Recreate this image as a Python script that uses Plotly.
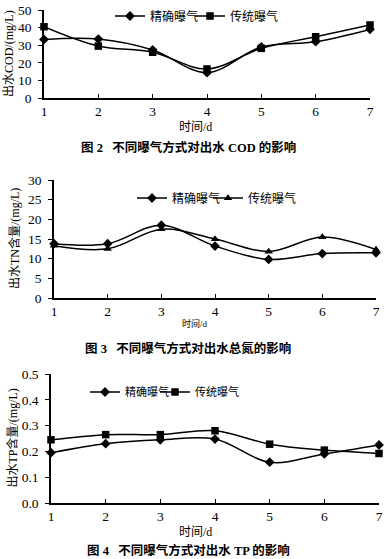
import plotly.graph_objects as go

W, H = 387, 559

days = [1, 2, 3, 4, 5, 6, 7]
series_names = ["精确曝气", "传统曝气"]

cod_precise = [33.3, 33.5, 27.3, 14.4, 29.0, 32.0, 39.0]
cod_conv = [40.5, 29.5, 26.0, 16.5, 28.2, 34.8, 41.5]

tn_precise = [13.8, 13.8, 18.5, 13.2, 9.8, 11.3, 11.5]
tn_conv = [13.3, 12.5, 17.5, 15.0, 11.8, 15.5, 12.3]

tp_precise = [0.195, 0.23, 0.245, 0.248, 0.158, 0.19, 0.225]
tp_conv = [0.245, 0.265, 0.265, 0.28, 0.228, 0.205, 0.192]

y_titles = ["出水COD/(mg/L)", "出水TN含量/(mg/L)", "出水TP含量/(mg/L)"]
x_title = "时间/d"
captions = ["图 2   不同曝气方式对出水 COD 的影响",
            "图 3   不同曝气方式对出水总氮的影响",
            "图 4   不同曝气方式对出水 TP 的影响"]

FONT = "Liberation Serif, Noto Sans CJK SC"

def px_x(p):
    return p / W

def px_y(p):
    return 1 - p / H

fig = go.Figure()

panels = [
    dict(data=(cod_precise, cod_conv), sym2="square", yr=[0, 50], dt=10,
         x0=44, x1=370, ytop=10, ybot=98, legx=(110, 190), legy=16, lfs=12,
         xt=127, xts=12, cap=147, ytx=9, tickfmt=None),
    dict(data=(tn_precise, tn_conv), sym2="triangle-up", yr=[0, 30], dt=5,
         x0=54, x1=376, ytop=180, ybot=298, legx=(132, 208), legy=198, lfs=12,
         xt=323, xts=9, cap=348, ytx=14, tickfmt=None),
    dict(data=(tp_precise, tp_conv), sym2="square", yr=[0, 0.5], dt=0.1,
         x0=51, x1=379, ytop=374, ybot=503, legx=(85, 155), legy=392, lfs=11,
         xt=532, xts=12, cap=550, ytx=12, tickfmt=".1f"),
]

k = 0
for i, p in enumerate(panels):
    n = "" if i == 0 else str(i + 1)
    xa, ya = "x" + n, "y" + n
    syms = ["diamond", p["sym2"]]
    for j, vals in enumerate(p["data"]):
        leg = "legend" if k == 0 else "legend" + str(k + 1)
        k += 1
        fig.add_trace(go.Scatter(
            x=days, y=vals, name=series_names[j], xaxis=xa, yaxis=ya,
            mode="lines+markers", legend=leg, cliponaxis=False,
            line=dict(color="black", width=1.5, shape="spline", smoothing=1),
            marker=dict(symbol=syms[j], size=7.5, color="black"),
        ))
        fig.layout[leg] = dict(
            orientation="h", x=px_x(p["legx"][j]), y=px_y(p["legy"]),
            xanchor="left", yanchor="middle", bgcolor="rgba(0,0,0,0)",
            font=dict(family=FONT, size=p["lfs"], color="black"),
            itemwidth=30,
        )
    xdom = [px_x(p["x0"]), px_x(p["x1"])]
    ydom = [px_y(p["ybot"]), px_y(p["ytop"])]
    fig.layout["xaxis" + n] = dict(
        domain=xdom, anchor=ya, range=[1, 7], dtick=1, tick0=1,
        showgrid=False, zeroline=False, showline=True, linecolor="black", linewidth=1.5,
        ticks="inside", ticklen=4, tickcolor="black", automargin=False,
        tickfont=dict(family=FONT, size=13.5, color="black"),
    )
    fig.layout["yaxis" + n] = dict(
        domain=ydom, anchor=xa, range=p["yr"], dtick=p["dt"], tick0=0,
        showgrid=False, zeroline=False, showline=True, linecolor="black", linewidth=1.5,
        ticks="outside", ticklen=4, tickcolor="black", tickformat=p["tickfmt"], automargin=False,
        ticklabelstandoff=4,
        tickfont=dict(family=FONT, size=13.5, color="black"),
    )
    fig.add_annotation(text=y_titles[i], xref="paper", yref="paper",
                       x=px_x(p["ytx"]), y=(ydom[0] + ydom[1]) / 2, textangle=-90,
                       xanchor="center", yanchor="middle",
                       showarrow=False, font=dict(family=FONT, size=12, color="black"))
    fig.add_annotation(text=x_title, xref="paper", yref="paper",
                       x=px_x(195), y=px_y(p["xt"]), xanchor="center", yanchor="middle",
                       showarrow=False,
                       font=dict(family=FONT, size=p["xts"], color="black"))
    fig.add_annotation(text="<b>" + captions[i] + "</b>", xref="paper", yref="paper",
                       x=px_x(188), y=px_y(p["cap"]), xanchor="center", yanchor="middle",
                       showarrow=False,
                       font=dict(family=FONT, size=12.5, color="black"))

fig.update_layout(
    width=W, height=H, margin=dict(l=0, r=0, t=0, b=0),
    paper_bgcolor="white", plot_bgcolor="white", showlegend=True,
)

fig.write_html("out.html", config={"displayModeBar": False},
               post_script="document.body.style.margin='0';document.body.style.overflow='hidden';")
